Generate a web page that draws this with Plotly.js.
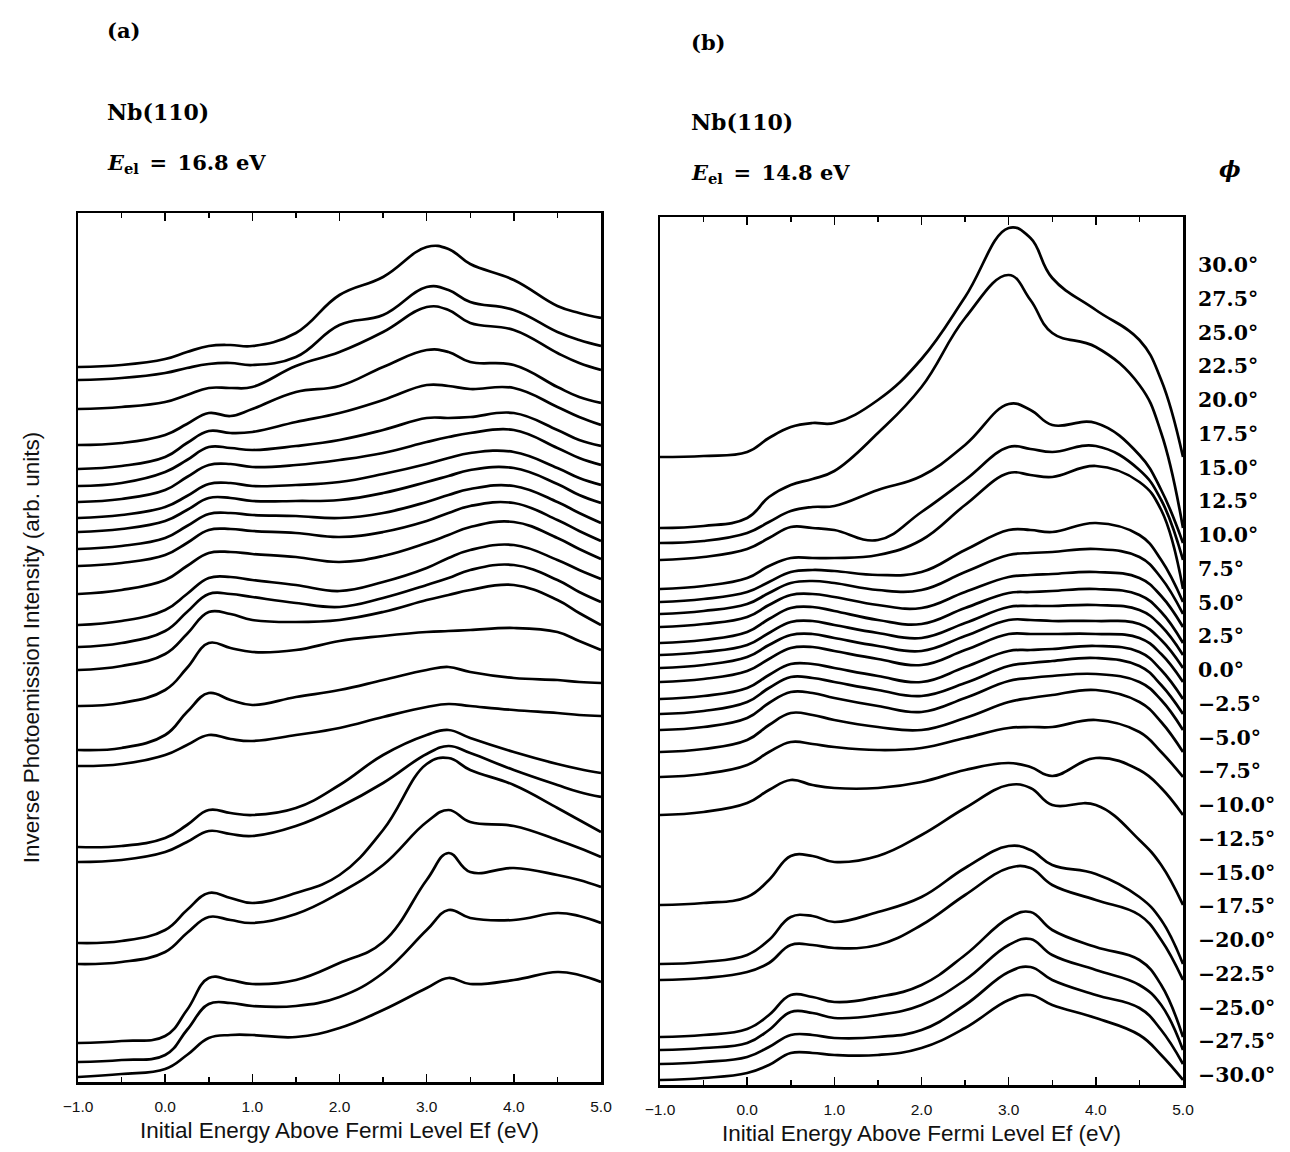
<!DOCTYPE html>
<html>
<head>
<meta charset="utf-8">
<script src="https://cdn.plot.ly/plotly-3.0.1.min.js"></script>
<style>
  html, body { margin: 0; padding: 0; background: #fff; }
  #chart { width: 1290px; height: 1152px; }
</style>
</head>
<body>
<div id="chart"></div>
<script>
// Initial-state energy grid (eV above Ef) shared by all spectra
const energy = [-1, -0.5, 0, 0.25, 0.5, 0.75, 1, 1.5, 2, 2.5, 3, 3.25, 3.5, 4, 4.5, 4.75, 5];

// Polar angles phi (deg), top spectrum to bottom spectrum
const phi = [30.0, 27.5, 25.0, 22.5, 20.0, 17.5, 15.0, 12.5, 10.0, 7.5, 5.0, 2.5, 0.0,
             -2.5, -5.0, -7.5, -10.0, -12.5, -15.0, -17.5, -20.0, -22.5, -25.0, -27.5, -30.0];

// (a) E_el = 16.8 eV — stacked spectra, arb. units (offsets included)
const a01 = [715, 717, 723, 730, 736, 737, 736, 749, 787, 805, 835, 833, 818, 802, 776, 769, 764];
const a02 = [702, 704, 709, 714, 718, 719, 717, 725, 757, 767, 795, 792, 780, 772, 750, 742, 736];
const a03 = [673, 675, 680, 687, 694, 694, 695, 716, 730, 750, 775, 772, 759, 752, 729, 719, 712];
const a04 = [637, 639, 647, 658, 669, 666, 673, 690, 696, 715, 732, 730, 720, 717, 695, 685, 679];
const a05 = [613, 616, 625, 639, 651, 649, 650, 660, 669, 682, 697, 696, 693, 694, 675, 665, 657];
const a06 = [596, 599, 610, 622, 635, 634, 632, 636, 642, 652, 664, 664, 665, 669, 652, 642, 636];
const a07 = [580, 583, 592, 605, 617, 618, 615, 617, 622, 629, 640, 645, 649, 652, 634, 624, 617];
const a08 = [564, 567, 575, 586, 598, 599, 596, 597, 600, 608, 618, 624, 629, 630, 614, 604, 597];
const a09 = [550, 553, 561, 572, 584, 584, 581, 581, 582, 589, 600, 606, 612, 614, 598, 587, 579];
const a10 = [533, 536, 544, 556, 568, 569, 567, 566, 564, 569, 580, 587, 593, 596, 580, 569, 559];
const a11 = [516, 519, 527, 539, 552, 553, 551, 549, 545, 550, 561, 569, 576, 579, 562, 551, 541];
const a12 = [488, 492, 502, 516, 529, 530, 528, 525, 520, 526, 539, 547, 555, 560, 544, 533, 523];
const a13 = [457, 461, 472, 488, 504, 505, 502, 497, 491, 500, 514, 524, 532, 537, 522, 512, 503];
const a14 = [435, 439, 451, 470, 488, 488, 485, 479, 475, 484, 497, 504, 512, 517, 502, 490, 480];
const a15 = [412, 416, 428, 448, 470, 468, 462, 460, 462, 470, 482, 487, 492, 497, 482, 469, 457];
const a16 = [376, 379, 392, 414, 439, 434, 430, 432, 441, 446, 450, 451, 452, 454, 450, 441, 432];
const a17 = [332, 334, 347, 370, 389, 382, 377, 385, 392, 402, 412, 415, 410, 404, 402, 400, 399];
const a18 = [316, 318, 327, 337, 347, 343, 341, 347, 354, 365, 375, 378, 376, 372, 369, 367, 366];
const a19 = [235, 236, 244, 257, 272, 269, 267, 274, 297, 327, 347, 352, 344, 330, 318, 313, 309];
const a20 = [220, 222, 230, 240, 251, 248, 246, 256, 275, 299, 328, 336, 329, 312, 297, 290, 285];
const a21 = [139, 141, 152, 172, 189, 184, 179, 189, 207, 252, 318, 324, 312, 297, 274, 262, 250];
const a22 = [118, 120, 130, 149, 165, 162, 159, 168, 189, 217, 260, 272, 260, 256, 242, 234, 225];
const a23 = [39, 41, 46, 72, 104, 102, 98, 102, 119, 140, 202, 229, 210, 214, 207, 202, 195];
const a24 = [20, 22, 27, 52, 78, 79, 76, 76, 85, 109, 152, 172, 164, 162, 169, 166, 159];
const a25 = [5, 8, 13, 27, 44, 47, 47, 45, 54, 72, 94, 104, 98, 102, 110, 107, 100];

// (b) E_el = 14.8 eV — stacked spectra, arb. units (offsets included)
const b01 = [628, 629, 633, 647, 658, 662, 662, 685, 726, 788, 857, 847, 807, 775, 745, 705, 628];
const b02 = [557, 559, 567, 588, 600, 606, 614, 652, 698, 767, 810, 785, 752, 738, 700, 652, 557];
const b03 = [542, 544, 552, 563, 574, 578, 579, 595, 609, 640, 681, 675, 660, 662, 630, 595, 542];
const b04 = [525, 528, 536, 547, 558, 557, 555, 545, 573, 605, 638, 636, 633, 639, 615, 585, 525];
const b05 = [496, 499, 507, 519, 527, 527, 527, 530, 545, 580, 612, 610, 608, 619, 603, 575, 496];
const b06 = [483, 486, 493, 503, 513, 515, 514, 510, 513, 535, 555, 555, 553, 562, 550, 525, 483];
const b07 = [471, 474, 481, 492, 502, 504, 502, 495, 495, 513, 530, 532, 533, 536, 528, 507, 471];
const b08 = [458, 461, 468, 480, 490, 491, 488, 480, 477, 493, 508, 510, 511, 513, 507, 489, 458];
const b09 = [442, 445, 453, 466, 477, 478, 474, 465, 461, 477, 492, 493, 494, 496, 490, 473, 442];
const b10 = [430, 433, 440, 452, 463, 464, 460, 452, 447, 462, 478, 479, 479, 480, 475, 459, 430];
const b11 = [417, 420, 428, 440, 450, 451, 447, 439, 434, 449, 465, 465, 464, 464, 461, 445, 417];
const b12 = [403, 406, 414, 426, 437, 438, 434, 426, 420, 435, 451, 451, 451, 451, 447, 431, 403];
const b13 = [386, 389, 397, 410, 421, 421, 417, 409, 403, 418, 434, 435, 436, 439, 433, 415, 386];
const b14 = [371, 374, 383, 397, 408, 407, 403, 395, 389, 402, 419, 422, 424, 427, 419, 400, 371];
const b15 = [355, 358, 367, 382, 393, 392, 387, 379, 373, 387, 404, 407, 409, 411, 403, 385, 355];
const b16 = [333, 336, 345, 360, 372, 370, 365, 358, 355, 367, 383, 387, 390, 395, 383, 363, 333];
const b17 = [308, 311, 320, 333, 343, 341, 338, 335, 337, 347, 357, 358, 358, 365, 353, 333, 308];
const b18 = [270, 273, 282, 295, 305, 300, 297, 297, 303, 315, 322, 318, 309, 327, 315, 297, 270];
const b19 = [180, 182, 188, 205, 229, 229, 223, 229, 250, 277, 300, 297, 280, 280, 245, 220, 180];
const b20 = [121, 123, 130, 145, 168, 169, 163, 173, 188, 217, 239, 235, 220, 211, 188, 165, 121];
const b21 = [105, 107, 113, 122, 140, 140, 137, 140, 160, 190, 217, 217, 200, 185, 170, 145, 105];
const b22 = [48, 50, 56, 70, 90, 88, 83, 88, 100, 130, 167, 173, 155, 138, 125, 100, 48];
const b23 = [35, 37, 42, 55, 73, 72, 67, 70, 80, 105, 140, 146, 130, 115, 100, 80, 35];
const b24 = [21, 23, 28, 38, 50, 50, 47, 48, 55, 80, 113, 118, 105, 90, 77, 55, 21];
const b25 = [5, 7, 12, 20, 32, 32, 30, 30, 37, 57, 85, 90, 80, 67, 50, 30, 5];

const panelA = [a01, a02, a03, a04, a05, a06, a07, a08, a09, a10, a11, a12, a13,
                a14, a15, a16, a17, a18, a19, a20, a21, a22, a23, a24, a25];
const panelB = [b01, b02, b03, b04, b05, b06, b07, b08, b09, b10, b11, b12, b13,
                b14, b15, b16, b17, b18, b19, b20, b21, b22, b23, b24, b25];

const W = 1290, H = 1152;
const px = v => v / W;          // horizontal pixel -> paper fraction
const py = v => 1 - v / H;      // vertical pixel (from top) -> paper fraction

const angleText = p => (p < 0 ? '\u2212' + Math.abs(p).toFixed(1) : p.toFixed(1)) + '\u00b0';
const lineStyle = { color: '#000', width: 2.7, shape: 'spline', smoothing: 1.2 };

const traces = [];
function addPanel(spectra, xa, ya) {
  spectra.forEach((s, i) => {
    traces.push({
      type: 'scatter', mode: 'lines',
      x: energy, y: s,
      xaxis: xa, yaxis: ya,
      line: lineStyle,
      name: angleText(phi[i]),
      hoverinfo: 'skip', showlegend: false
    });
  });
}
addPanel(panelA, 'x', 'y');
addPanel(panelB, 'x2', 'y2');

const tickFont = { family: 'Liberation Sans, Arial, sans-serif', size: 15.5, color: '#111' };
const titleFont = { family: 'Liberation Sans, Arial, sans-serif', size: 22.5, color: '#111' };
const serifBold = { family: 'DejaVu Serif, serif', size: 21, color: '#000' };

function energyAxis(domain, anchor) {
  return {
    domain: domain, anchor: anchor,
    range: [-1, 5], tick0: -1, dtick: 1, tickformat: '.1f',
    ticks: 'inside', ticklen: 8, tickwidth: 1.5, tickcolor: '#000',
    minor: { dtick: 0.5, ticks: 'inside', ticklen: 5, tickwidth: 1.5, tickcolor: '#000' },
    showline: true, linecolor: '#000', linewidth: 2.5, mirror: 'ticks',
    showgrid: false, zeroline: false,
    tickfont: tickFont, ticklabelstandoff: 9,
    title: { text: 'Initial Energy Above Fermi Level Ef (eV)', font: titleFont, standoff: 8 }
  };
}
function intensityAxis(domain, anchor, top) {
  return {
    domain: domain, anchor: anchor, range: [0, top],
    showline: true, linecolor: '#000', linewidth: 2.5, mirror: true,
    ticks: '', showticklabels: false, showgrid: false, zeroline: false
  };
}

const annotations = [];
function label(text, x, y, font) {
  annotations.push({
    text: text, xref: 'paper', yref: 'paper', x: px(x), y: py(y),
    xanchor: 'left', yanchor: 'middle', showarrow: false, font: font
  });
}
const eq = '\u2002=\u2002';
label('<b>(a)</b>', 105, 31, serifBold);
label('<b>Nb(110)</b>', 105, 112, Object.assign({}, serifBold, { size: 22 }));
label('<b><i>E</i><sub>el</sub>' + eq + '16.8 eV</b>', 105, 163, serifBold);
label('<b>(b)</b>', 689, 42, serifBold);
label('<b>Nb(110)</b>', 689, 122, Object.assign({}, serifBold, { size: 22 }));
label('<b><i>E</i><sub>el</sub>' + eq + '14.8 eV</b>', 689, 173, serifBold);
label('<b><i>\u03d5</i></b>', 1217, 169, Object.assign({}, serifBold, { size: 23 }));

// angle labels beside panel (b), one per spectrum
phi.forEach((p, i) => {
  label('<b>' + angleText(p) + '</b>', 1196, 265 + i * 33.75, Object.assign({}, serifBold, { size: 20.5 }));
});

const yA = intensityAxis([py(1082), py(213)], 'x', 869);
yA.title = { text: 'Inverse Photoemission Intensity (arb. units)', font: titleFont, standoff: 30 };

const layout = {
  width: W, height: H,
  margin: { l: 0, r: 0, t: 0, b: 0 },
  paper_bgcolor: '#fff', plot_bgcolor: '#fff',
  showlegend: false,
  xaxis: energyAxis([px(78), px(601)], 'y'),
  yaxis: yA,
  xaxis2: energyAxis([px(660), px(1183)], 'y2'),
  yaxis2: intensityAxis([py(1085), py(217)], 'x2', 868),
  annotations: annotations
};

Plotly.newPlot('chart', traces, layout, { staticPlot: true, displayModeBar: false });
</script>
</body>
</html>
